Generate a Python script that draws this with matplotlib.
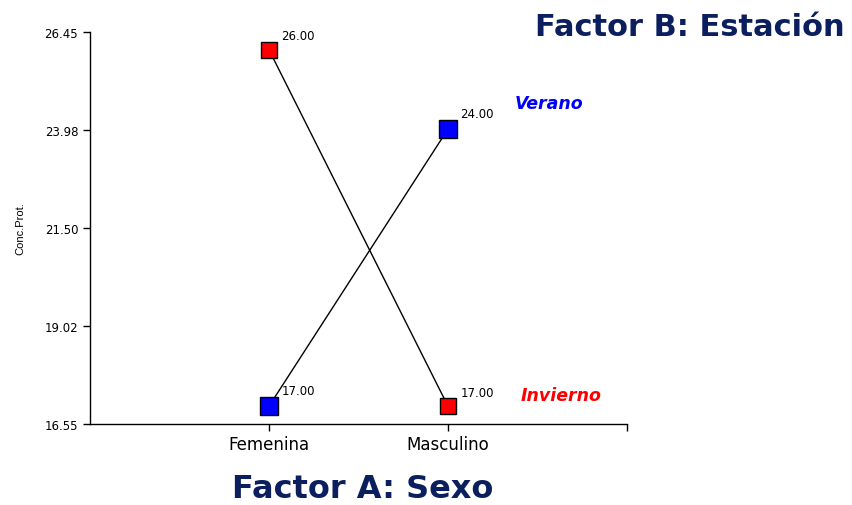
import matplotlib
matplotlib.use("Agg")
import matplotlib.pyplot as plt

categories = ["Femenina", "Masculino"]
verano = [17.00, 24.00]
invierno = [26.00, 17.00]
yticks = [16.55, 19.02, 21.50, 23.98, 26.45]
series_names = ["Verano", "Invierno"]

fig = plt.figure(figsize=(8.52, 5.06), dpi=100)
ax = fig.add_axes([90/852, 1-425/506, (627-90)/852, (425-33)/506])

xpos = [1, 2]
ax.plot(xpos, invierno, color="black", lw=1.0, zorder=2)
ax.plot(xpos, verano, color="black", lw=1.0, zorder=2)
ax.plot(xpos, invierno, ls="none", marker="s", ms=11, mfc="#FF0000", mec="black", mew=1.0, zorder=3)
ax.plot(xpos, verano, ls="none", marker="s", ms=13, mfc="#0000FF", mec="black", mew=1.0, zorder=3)

for x, v in zip(xpos, invierno):
    ax.annotate(f"{v:.2f}", (x, v), xytext=(9, 10), textcoords="offset points",
                fontsize=8.5, family="DejaVu Sans", ha="left", va="center")
for x, v in zip(xpos, verano):
    ax.annotate(f"{v:.2f}", (x, v), xytext=(9, 11), textcoords="offset points",
                fontsize=8.5, family="DejaVu Sans", ha="left", va="center")

ax.annotate(series_names[0], (2, verano[1]), xytext=(48, 19), textcoords="offset points",
            fontsize=12.5, color="#0000FF", fontweight="bold", style="italic",
            family="DejaVu Sans", ha="left", va="center")
ax.annotate(series_names[1], (2, invierno[1]), xytext=(52, 8), textcoords="offset points",
            fontsize=12.5, color="#FF0000", fontweight="bold", style="italic",
            family="DejaVu Sans", ha="left", va="center")

ax.set_xlim(0, 3)
ax.set_ylim(yticks[0], yticks[-1])
ax.set_xticks([1, 2, 3])
ax.set_xticklabels(categories + [""], fontsize=12, family="DejaVu Sans")
ax.set_yticks(yticks)
ax.set_yticklabels([f"{t:.2f}" for t in yticks], fontsize=8.5, family="DejaVu Sans")
ax.tick_params(axis="both", direction="out", length=5, width=1, color="black")
ax.tick_params(axis="x", pad=3)
for s in ["top", "right"]:
    ax.spines[s].set_visible(False)
for s in ["left", "bottom"]:
    ax.spines[s].set_linewidth(1.0)

ax.set_ylabel("Conc.Prot.", fontsize=8, family="Liberation Sans", labelpad=14)

fig.text(845/852, 1-28/506, "Factor B: Estación", fontsize=22, fontweight="bold",
         color="#0B1F5E", family="DejaVu Sans", ha="right", va="center")
fig.text(363/852, 1-490/506, "Factor A: Sexo", fontsize=23, fontweight="bold",
         color="#0B1F5E", family="DejaVu Sans", ha="center", va="center")

fig.savefig("out.png", dpi=100)
